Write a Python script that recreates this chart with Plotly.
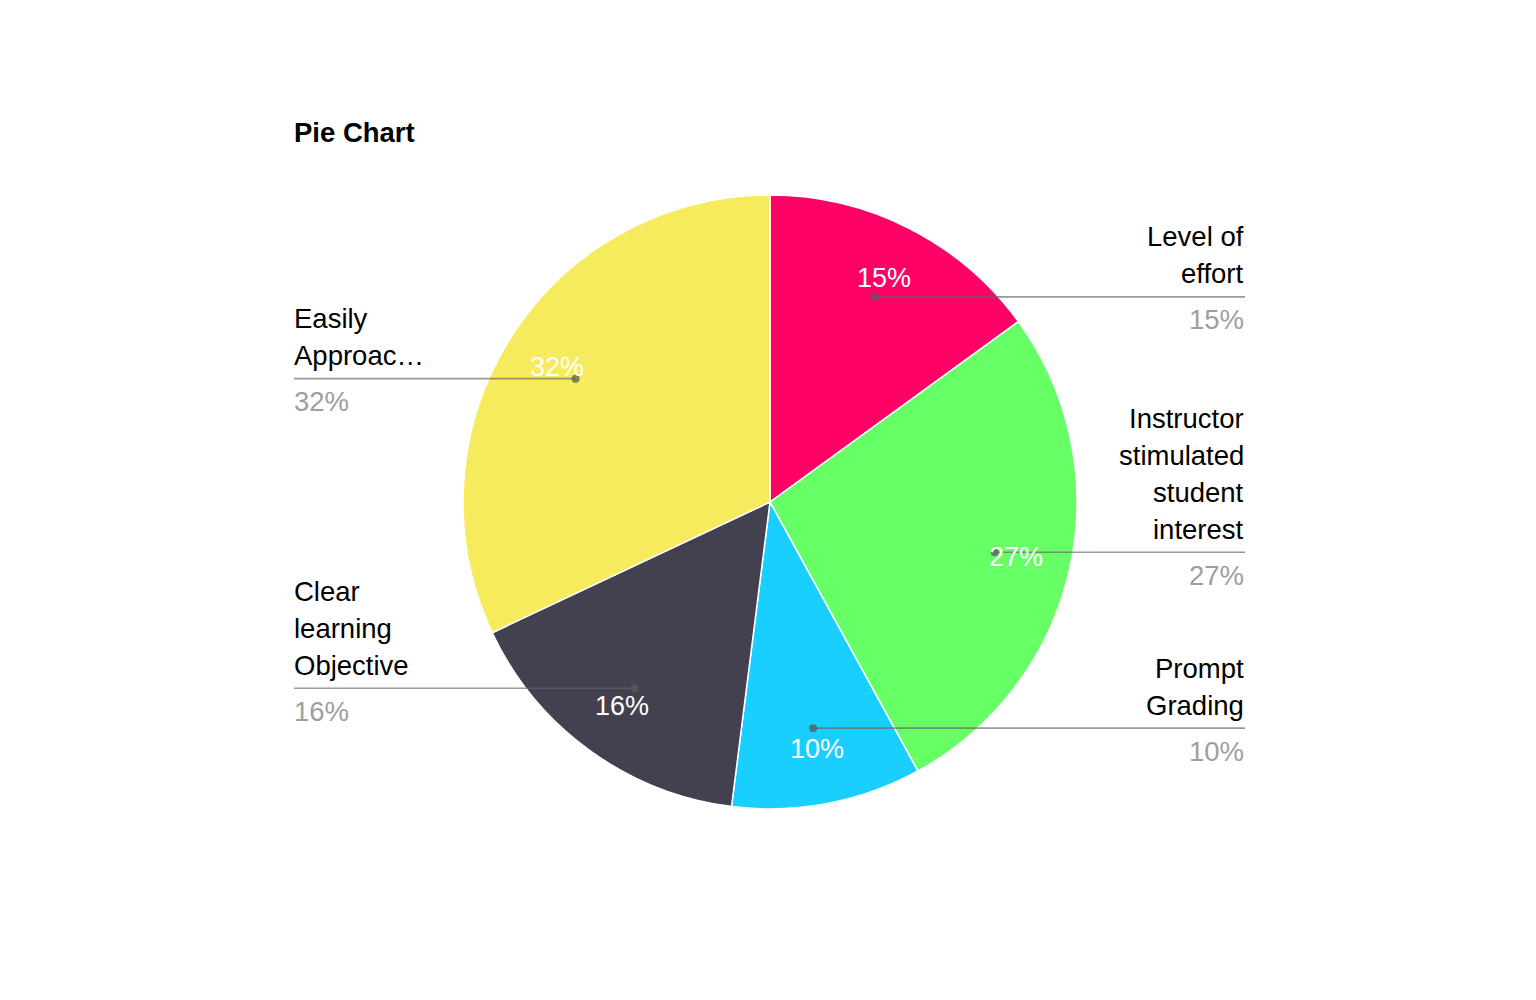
import math
import plotly.graph_objects as go

# ---- data ----
categories = ["Level of effort", "Instructor stimulated student interest",
              "Prompt Grading", "Clear learning Objective", "Easily Approachable"]
values = [15, 27, 10, 16, 32]
label_lines = [["Level of", "effort"],
               ["Instructor", "stimulated", "student", "interest"],
               ["Prompt", "Grading"],
               ["Clear", "learning", "Objective"],
               ["Easily", "Approac…"]]
colors = ["#FF0066", "#66FF66", "#18CFFF", "#434050", "#F5EB5D"]

W, H = 1536, 1000
CX, CY, R = 770, 502, 307          # pie centre / radius in px
RIGHT_EDGE, LEFT_EDGE = 1245, 294
FONT = "Liberation Sans, Arial, sans-serif"
FS = 27.5


def fx(px):
    return px / W


def fy(py):
    return 1 - py / H


fig = go.Figure(go.Pie(
    labels=categories, values=values, sort=False, direction="clockwise",
    rotation=0, textinfo="none", hoverinfo="skip",
    marker=dict(colors=colors, line=dict(color="white", width=1.5)),
    domain=dict(x=[fx(CX - R), fx(CX + R)], y=[fy(CY + R), fy(CY - R)]),
    showlegend=False,
))

annotations = []
shapes = []
total = sum(values)
cum = 0
for name, v, lines in zip(categories, values, label_lines):
    mid = (cum + v / 2) / total * 2 * math.pi
    cum += v
    pct = f"{round(v / total * 100)}%"
    # dot position
    dx = CX + 0.75 * R * math.sin(mid)
    dy = CY - 0.75 * R * math.cos(mid)
    # inside percent text
    tx = CX + 0.82 * R * math.sin(mid)
    ty = CY - 0.82 * R * math.cos(mid)
    annotations.append(dict(x=fx(tx), y=fy(ty), xref="paper", yref="paper",
                            text=pct, showarrow=False, xanchor="center", yanchor="middle",
                            font=dict(family=FONT, size=27, color="white")))
    right = math.sin(mid) > 0
    edge = RIGHT_EDGE if right else LEFT_EDGE
    shapes.append(dict(type="line", xref="paper", yref="paper",
                       x0=fx(dx), x1=fx(edge), y0=fy(dy), y1=fy(dy),
                       line=dict(color="rgba(100,100,100,0.65)", width=1.6)))
    rr = 4
    shapes.append(dict(type="circle", xref="paper", yref="paper",
                       x0=fx(dx - rr), x1=fx(dx + rr), y0=fy(dy - rr), y1=fy(dy + rr),
                       fillcolor="rgba(90,90,90,0.75)", line=dict(width=0)))
    anchor = "right" if right else "left"
    lx = fx(edge + (1 if right else -2))
    n = len(lines)
    for i, ln in enumerate(lines):
        yy = dy - 23 - 37 * (n - 1 - i)
        annotations.append(dict(x=lx, y=fy(yy), xref="paper", yref="paper",
                                text=ln, showarrow=False, xanchor=anchor, yanchor="middle",
                                font=dict(family=FONT, size=FS, color="black")))
    annotations.append(dict(x=lx, y=fy(dy + 23), xref="paper", yref="paper",
                            text=pct, showarrow=False, xanchor=anchor, yanchor="middle",
                            font=dict(family=FONT, size=FS, color="#9E9E9E")))

annotations.append(dict(x=fx(292), y=fy(132), xref="paper", yref="paper",
                        text="<b>Pie Chart</b>", showarrow=False, xanchor="left",
                        yanchor="middle", font=dict(family=FONT, size=FS, color="black")))

fig.update_layout(width=W, height=H, margin=dict(l=0, r=0, t=0, b=0),
                  paper_bgcolor="white", plot_bgcolor="white",
                  annotations=annotations, shapes=shapes)

fig.write_html("out.html", config={"displayModeBar": False},
               post_script="document.body.style.margin='0';document.body.style.overflow='hidden';")
